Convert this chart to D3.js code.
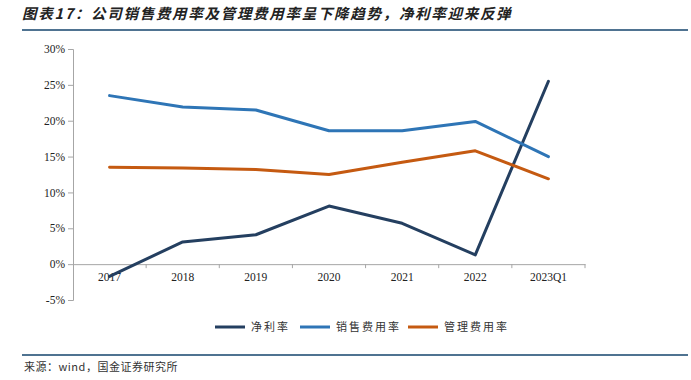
<!DOCTYPE html>
<html>
<head>
<meta charset="utf-8">
<script src="https://cdn.jsdelivr.net/npm/d3@7"></script>
<style>
  body { margin: 0; background: #fff; }
  svg { display: block; }
</style>
</head>
<body>
<svg></svg>
<script>
// chart data
const categories = ['2017', '2018', '2019', '2020', '2021', '2022', '2023Q1'];
const netMargin = [-1.7, 3.1, 4.1, 8.1, 5.7, 1.3, 25.5];     // 净利率
const salesExpense = [23.5, 21.9, 21.5, 18.6, 18.6, 19.9, 15.0]; // 销售费用率
const adminExpense = [13.5, 13.4, 13.2, 12.5, 14.2, 15.8, 11.9]; // 管理费用率
const yTicks = [-5, 0, 5, 10, 15, 20, 25, 30];

const seriesNames = ['净利率', '销售费用率', '管理费用率'];
const seriesColors = ['#243f60', '#2e75b6', '#c55a11'];
const seriesData = [netMargin, salesExpense, adminExpense];

const w = 691, h = 380;
const svg = d3.select('svg').attr('width', w).attr('height', h);

// title + rules
svg.append('text')
  .attr('x', 22).attr('y', 19)
  .style('font-family', '"Noto Sans CJK SC", sans-serif')
  .style('font-size', '14.5px')
  .style('font-weight', 'bold')
  .style('font-style', 'italic')
  .style('letter-spacing', '1.7px')
  .attr('fill', '#222')
  .text('图表17：公司销售费用率及管理费用率呈下降趋势，净利率迎来反弹');

svg.append('line')
  .attr('x1', 22).attr('x2', 688).attr('y1', 30).attr('y2', 30)
  .attr('stroke', '#4f7391').attr('stroke-width', 2);

svg.append('line')
  .attr('x1', 22).attr('x2', 688).attr('y1', 355).attr('y2', 355)
  .attr('stroke', '#4f7391').attr('stroke-width', 2);

svg.append('text')
  .attr('x', 24).attr('y', 371)
  .style('font-family', '"Noto Sans CJK SC", sans-serif')
  .style('font-size', '11px')
  .style('letter-spacing', '0.5px')
  .attr('fill', '#333')
  .text('来源：wind，国金证券研究所');

// scales
const xScale = d3.scaleBand()
  .domain(categories)
  .range([73, 585]);

const yScale = d3.scaleLinear()
  .domain([-5, 30])
  .range([300, 49]);

// y axis
const yAxis = d3.axisLeft(yScale)
  .tickValues(yTicks)
  .tickSize(5)
  .tickFormat(d => d + '%');

const gy = svg.append('g')
  .attr('transform', 'translate(73,0)')
  .call(yAxis);
gy.select('.domain').attr('stroke', '#a6a6a6');
gy.selectAll('.tick line').attr('stroke', '#a6a6a6');
gy.selectAll('.tick text')
  .attr('x', -8)
  .style('font-family', '"Liberation Serif", serif')
  .style('font-size', '11.5px')
  .attr('fill', '#222');

// x axis at 0%
const xAxis = d3.axisBottom(xScale)
  .tickSize(0)
  .tickPadding(9);

const gx = svg.append('g')
  .attr('transform', 'translate(0,' + yScale(0) + ')')
  .call(xAxis);
gx.select('.domain').attr('stroke', '#a6a6a6');
gx.selectAll('.tick text')
  .style('font-family', '"Liberation Serif", serif')
  .style('font-size', '11.5px')
  .attr('fill', '#222');

// category separator ticks
const bounds = categories.map(c => xScale(c) + xScale.bandwidth());
svg.append('g')
  .selectAll('line')
  .data(bounds)
  .enter()
  .append('line')
  .attr('x1', d => d).attr('x2', d => d)
  .attr('y1', yScale(0)).attr('y2', yScale(0) + 4)
  .attr('stroke', '#a6a6a6');

// lines
const line = d3.line()
  .x((d, i) => xScale(categories[i]) + xScale.bandwidth() / 2)
  .y(d => yScale(d));

svg.append('g')
  .selectAll('path')
  .data(seriesData)
  .enter()
  .append('path')
  .attr('d', d => line(d))
  .attr('fill', 'none')
  .attr('stroke', (d, i) => seriesColors[i])
  .attr('stroke-width', 3)
  .attr('stroke-linejoin', 'round')
  .attr('stroke-linecap', 'round');

// legend
const legendX = [215, 300, 408];
const legend = svg.append('g')
  .selectAll('g')
  .data(seriesNames)
  .enter()
  .append('g')
  .attr('transform', (d, i) => 'translate(' + legendX[i] + ',327)');

legend.append('line')
  .attr('x1', 0).attr('x2', 30)
  .attr('stroke', (d, i) => seriesColors[i])
  .attr('stroke-width', 3);

legend.append('text')
  .attr('x', 36).attr('y', 4)
  .style('font-family', '"Noto Sans CJK SC", sans-serif')
  .style('font-size', '11px')
  .attr('fill', '#333')
  .style('letter-spacing', '2px')
  .text(d => d);
</script>
</body>
</html>
